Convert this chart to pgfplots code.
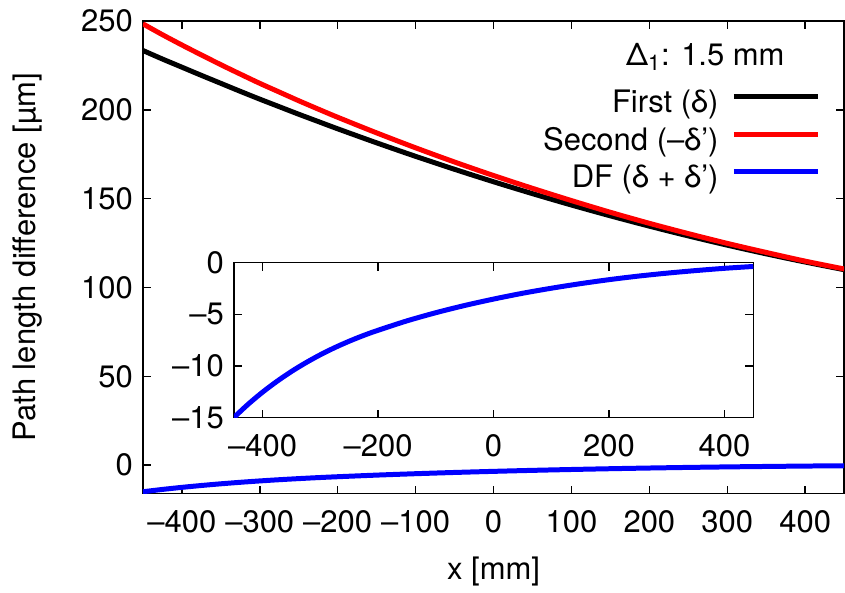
\documentclass[border=0pt]{standalone}
\usepackage{fontspec}
\setmainfont{TeX Gyre Heros}
\usepackage{pgfplots}
\pgfplotsset{compat=1.18}
\usetikzlibrary{calc}

\pgfplotstableread{
x y
-450 233.4
-425 228.6
-400 224.0
-375 219.4
-350 214.9
-325 210.4
-300 206.0
-275 201.75
-250 197.5
-225 193.4
-200 189.3
-150 181.4
-100 173.8
-50 166.5
0 159.5
50 152.8
100 146.4
150 140.3
200 134.5
250 129.0
300 123.8
350 118.9
400 114.3
450 110.0
}\first

\pgfplotstableread{
x y
-450 248.4
-425 242.3
-400 236.5
-375 230.9
-350 225.4
-325 220.1
-300 214.9
-275 210.0
-250 205.1
-225 200.4
-200 195.8
-150 187.0
-100 178.6
-50 170.6
0 163.0
50 155.8
100 148.9
150 142.3
200 136.1
250 130.3
300 124.8
350 119.7
400 114.8
450 110.4
}\second

\pgfplotstableread{
x y
-450 -15.0
-425 -13.7
-400 -12.53
-375 -11.48
-350 -10.53
-325 -9.68
-300 -8.91
-275 -8.22
-250 -7.6
-225 -7.04
-200 -6.54
-150 -5.63
-100 -4.84
-50 -4.14
0 -3.52
50 -2.96
100 -2.47
150 -2.03
200 -1.64
250 -1.30
300 -1.01
350 -0.76
400 -0.54
450 -0.36
}\df

\begin{document}
\begin{tikzpicture}[font=\fontsize{15.5}{18}\selectfont]
\useasboundingbox (-71.5pt,-49.5pt) rectangle (351.4pt,247pt);
\pgfplotsset{
  every axis/.append style={
    scale only axis,
    tick align=inside,
    major tick length=4pt,
    axis line style={line width=0.75pt},
    every tick/.style={black, line width=0.75pt},
    /pgf/number format/assume math mode=true,
    yticklabel style={xshift=-1.5pt},
    xticklabel style={yshift=-5pt},
  }
}
\begin{axis}[name=main, width=351pt, height=236.5pt,
  xmin=-450, xmax=450, ymin=-16, ymax=250,
  xtick={-400,-300,...,400},
  xticklabels={–400,–300,–200,–100,0,100,200,300,400},
  ytick={0,50,...,250},
  yticklabels={0,50,100,150,200,250},
  xlabel={x [mm]}, ylabel={Path length difference [µm]},
  xlabel style={at={(axis description cs:0.5,0)}, anchor=center, yshift=-39pt},
  ylabel style={at={(axis description cs:-0.1638,0.5)}, anchor=center},
  legend cell align=right,
  legend plot pos=right,
  legend image code/.code={\draw[#1] (0pt,4pt) -- (42pt,4pt);},
  legend style={draw=none, fill=none, inner sep=0pt, outer sep=0pt,
    at={(rel axis cs:0.966,0.858)}, anchor=north east,
    column sep=5.5pt, row sep=3pt,
    nodes={inner sep=1pt, text height=11pt, text depth=3pt}},
]
\addplot[black, line width=2.5pt, smooth] table {\first};
\addlegendentry{First (δ)}
\addplot[red, line width=2.5pt, smooth] table {\second};
\addlegendentry{Second (–δ’)}
\addplot[blue, line width=2.5pt, smooth] table {\df};
\addlegendentry{DF (δ + δ’)}
\node at (rel axis cs:0.802,0.924) {Δ\textsubscript{1}: 1.5 mm};
\end{axis}
\begin{axis}[at={($(main.south west)+(45.5pt,38pt)$)}, anchor=south west,
  width=260pt, height=77.5pt,
  axis background/.style={fill=white},
  xmin=-450, xmax=450, ymin=-15, ymax=0,
  xtick={-400,-200,...,400},
  xticklabels={–400,–200,0,200,400},
  ytick={-15,-10,-5,0},
  yticklabels={–15,–10,–5,0},
]
\addplot[blue, line width=2.5pt, smooth] table {\df};
\end{axis}
\end{tikzpicture}
\end{document}
